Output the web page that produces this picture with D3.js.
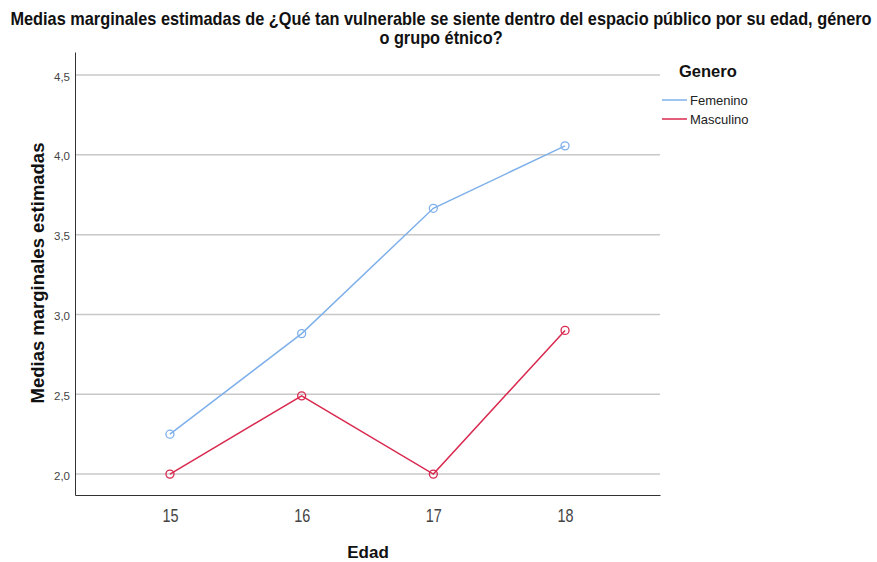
<!DOCTYPE html>
<html><head><meta charset="utf-8">
<script src="https://cdn.jsdelivr.net/npm/d3@7"></script>
<style>body{margin:0;background:#fff;} svg{display:block;}</style>
</head><body>
<script>
const ages = ["15","16","17","18"];
const femenino = [2.25, 2.88, 3.665, 4.056];
const masculino = [2.0, 2.49, 2.0, 2.90];
const seriesNames = ["Femenino","Masculino"];
const seriesColors = ["#7fb0ea","#d9294f"];
const yTicks = [2.0, 2.5, 3.0, 3.5, 4.0, 4.5];

const W = 877, H = 562;
const svg = d3.select("body").append("svg").attr("width", W).attr("height", H);
const font = "'Liberation Sans', Arial, sans-serif";

const x = d3.scalePoint().domain(ages).range([75, 660]).padding(0.721);
const y = d3.scaleLinear().domain([1.869, 4.644]).range([495, 52]);

// gridlines
svg.append("g").selectAll("line").data(yTicks).join("line")
  .attr("x1", 75).attr("x2", 660)
  .attr("y1", d => y(d)).attr("y2", d => y(d))
  .attr("stroke", "#c8c8c8").attr("stroke-width", 1.5);

// y axis
const yAxis = svg.append("g").attr("transform", "translate(75,0)")
  .call(d3.axisLeft(y).tickValues(yTicks).tickSize(0).tickPadding(5)
    .tickFormat(d => d3.format(".1f")(d).replace(".", ",")));
yAxis.select(".domain").attr("stroke", "#333");
yAxis.selectAll("text").attr("font-family", font).attr("font-size", 11.5).attr("fill", "#444")
  .attr("dy", "0.45em");

// x axis
const xAxis = svg.append("g").attr("transform", "translate(0,495)")
  .call(d3.axisBottom(x).tickSize(0).tickPadding(0));
xAxis.select(".domain").attr("stroke", "#333");
xAxis.selectAll(".tick text").attr("font-family", font).attr("font-size", 18.5).attr("fill", "#444")
  .attr("dy", 0).attr("y", 0)
  .attr("transform", "translate(0,27) scale(0.78,1)");

// lines
const data = [femenino, masculino];
const line = d3.line().x((d, i) => x(ages[i])).y(d => y(d));
data.forEach((vals, s) => {
  svg.append("path").datum(vals).attr("d", line)
    .attr("fill", "none").attr("stroke", seriesColors[s]).attr("stroke-width", 1.5);
  svg.append("g").selectAll("circle").data(vals).join("circle")
    .attr("cx", (d, i) => x(ages[i])).attr("cy", d => y(d)).attr("r", 4)
    .attr("fill", "none").attr("stroke", seriesColors[s]).attr("stroke-width", 1.3);
});

// title (condensed look)
const tg = svg.append("g");
const t1 = tg.append("text").attr("x", 0).attr("y", 25).attr("text-anchor", "middle")
  .attr("font-family", font).attr("font-weight", "bold").attr("font-size", 17.5).attr("fill", "#111")
  .text("Medias marginales estimadas de ¿Qué tan vulnerable se siente dentro del espacio público por su edad, género");
const t2 = tg.append("text").attr("x", 0).attr("y", 44).attr("text-anchor", "middle")
  .attr("font-family", font).attr("font-weight", "bold").attr("font-size", 17.5).attr("fill", "#111")
  .text("o grupo étnico?");
const sx = 862 / t1.node().getComputedTextLength();
tg.attr("transform", `translate(441,0) scale(${sx},1)`);

// y title
const yt = svg.append("g").attr("transform", "translate(44,273) rotate(-90)");
const ytt = yt.append("text").attr("text-anchor", "middle").attr("font-family", font)
  .attr("font-weight", "bold").attr("font-size", 18.5).attr("fill", "#111")
  .text("Medias marginales estimadas");
const syt = 261 / ytt.node().getComputedTextLength();
ytt.attr("transform", `scale(${syt},1)`);

// x title
svg.append("text").attr("x", 368).attr("y", 558).attr("text-anchor", "middle")
  .attr("font-family", font).attr("font-weight", "bold").attr("font-size", 17)
  .attr("fill", "#111").text("Edad");

// legend
svg.append("text").attr("x", 679).attr("y", 77).attr("font-family", font)
  .attr("font-weight", "bold").attr("font-size", 16.5).attr("fill", "#111").text("Genero");
seriesNames.forEach((n, i) => {
  const yy = 100 + i * 19;
  svg.append("line").attr("x1", 662).attr("x2", 687).attr("y1", yy).attr("y2", yy)
    .attr("stroke", seriesColors[i]).attr("stroke-width", 1.5);
  svg.append("text").attr("x", 690).attr("y", yy + 5).attr("font-family", font)
    .attr("font-size", 13).attr("fill", "#222").text(n);
});
</script>
</body></html>
